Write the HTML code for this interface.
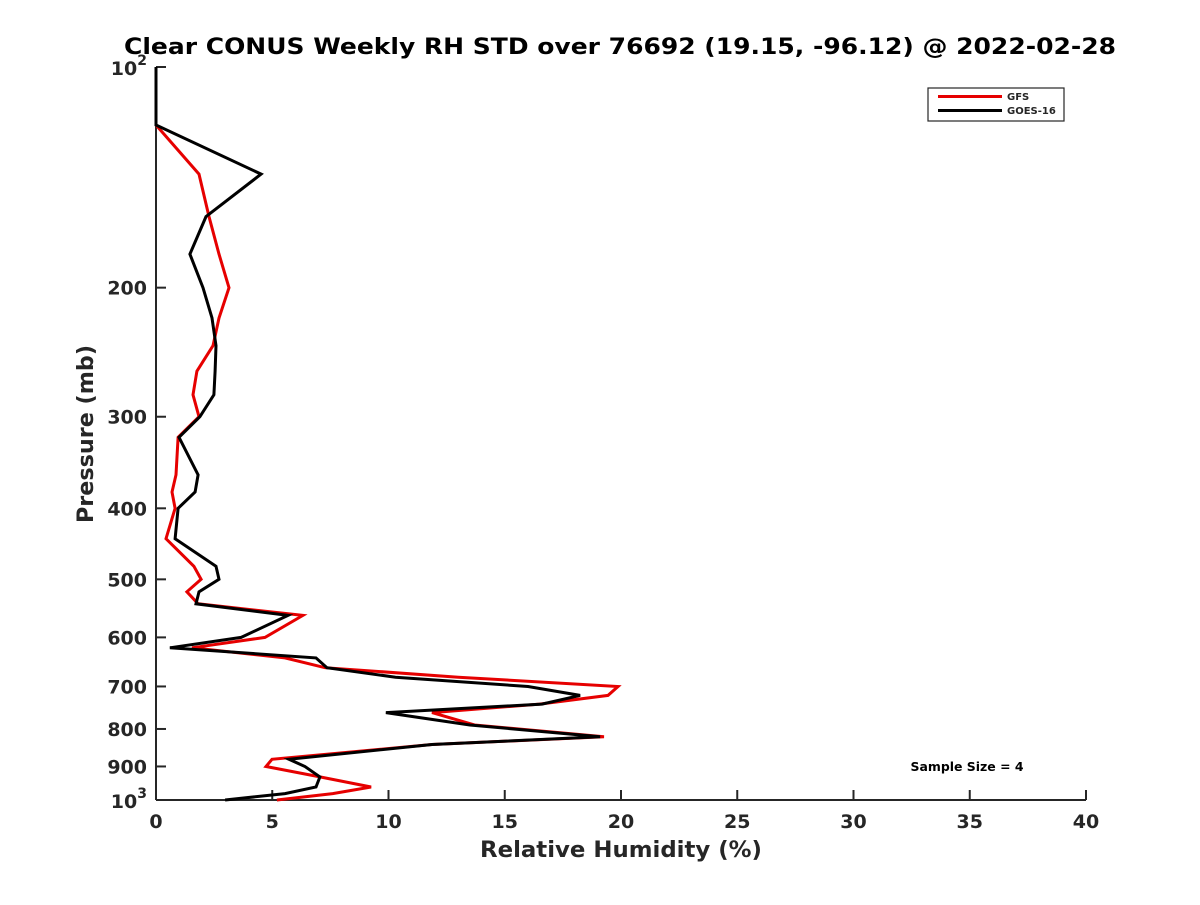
<!DOCTYPE html>
<html><head><meta charset="utf-8"><style>
body{margin:0;background:#fff;}
svg text{font-family:"DejaVu Sans","Liberation Sans",sans-serif;font-weight:bold;fill:#262626;}
</style></head><body>
<svg id="chart" width="1200" height="900" viewBox="0 0 1200 900" xmlns="http://www.w3.org/2000/svg">
<rect width="1200" height="900" fill="#fff"/>
<text x="620" y="54" text-anchor="middle" font-size="22" textLength="992" lengthAdjust="spacingAndGlyphs" style="fill:#000">Clear CONUS Weekly RH STD over 76692 (19.15, -96.12) @ 2022-02-28</text>
<g id="axes"></g>
<g id="series"></g>
<text x="621" y="857" text-anchor="middle" font-size="22" textLength="282" lengthAdjust="spacingAndGlyphs">Relative Humidity (%)</text>
<text transform="translate(93,434) rotate(-90)" text-anchor="middle" font-size="22" textLength="178" lengthAdjust="spacingAndGlyphs">Pressure (mb)</text>
<g>
<rect x="928" y="88" width="136" height="33" fill="#fff" stroke="#262626" stroke-width="1.2"/>
<line x1="938" y1="96.5" x2="1002" y2="96.5" stroke="#e60000" stroke-width="3"/>
<text x="1007" y="100" font-size="10">GFS</text>
<line x1="938" y1="110.5" x2="1002" y2="110.5" stroke="#000" stroke-width="3"/>
<text x="1007" y="114" font-size="10">GOES-16</text>
</g>
<text x="967" y="771" text-anchor="middle" font-size="12" textLength="113" lengthAdjust="spacingAndGlyphs" style="fill:#000">Sample Size = 4</text>
</svg>
<script>
const pressures=[100,120,140,160,180,200,220,240,260,280,300,320,360,380,400,440,480,500,520,540,560,600,620,640,660,680,700,720,740,760,790,820,840,880,900,930,960,980,1000];
const gfsValues=[0,0,1.85,2.28,2.71,3.14,2.71,2.45,1.76,1.59,1.85,0.95,0.86,0.69,0.82,0.43,1.63,1.94,1.33,1.81,6.32,4.69,1.55,5.55,7.27,13.0,19.87,19.44,16.5,11.87,13.7,19.27,11.87,4.99,4.73,7.05,9.25,7.6,5.2];
const goesValues=[0,0,4.52,2.15,1.46,2.02,2.41,2.58,2.54,2.49,1.89,0.99,1.81,1.68,0.95,0.82,2.58,2.71,1.85,1.72,5.68,3.66,0.6,6.88,7.35,10.3,16.0,18.24,16.6,9.89,13.5,19.1,11.87,5.72,6.41,7.05,6.88,5.55,2.97];
const xTicks=[0,5,10,15,20,25,30,35,40];
const yTicks=[200,300,400,500,600,700,800,900];
const X0=156,X1=1086,Y0=67,Y1=800;
const xs=v=>X0+(v/40)*(X1-X0);
const ys=p=>Y0+(Math.log10(p)-2)*(Y1-Y0);
const NS="http://www.w3.org/2000/svg";
const axes=document.getElementById('axes'),series=document.getElementById('series');
function mk(tag,attrs,parent){const e=document.createElementNS(NS,tag);for(const k in attrs)e.setAttribute(k,attrs[k]);parent.appendChild(e);return e;}
const xa=mk('line',{x1:X0,y1:Y1,x2:X1,y2:Y1,stroke:'#262626','stroke-width':2},axes);


const ya=mk('line',{x1:X0,y1:Y0,x2:X0,y2:Y1,stroke:'#262626','stroke-width':2},axes);


xTicks.forEach(t=>{
 const l=mk('line',{x1:xs(t),y1:Y1,x2:xs(t),y2:Y1-10,stroke:'#262626','stroke-width':2},axes);
 
 
 const tx=mk('text',{x:xs(t),y:Y1+28,'text-anchor':'middle','font-size':19},axes);
 tx.textContent=t;
 
 
});
yTicks.forEach(t=>{
 const l=mk('line',{x1:X0,y1:ys(t),x2:X0+10,y2:ys(t),stroke:'#262626','stroke-width':2},axes);
 
 
 const tx=mk('text',{x:X0-9,y:ys(t)+7,'text-anchor':'end','font-size':19},axes);
 tx.textContent=t;
 
 
});
[[100,Y0],[1000,Y1]].forEach(([p,y])=>{
 const l=mk('line',{x1:X0,y1:y,x2:X0+10,y2:y,stroke:'#262626','stroke-width':2},axes);
 
 
 const tx=mk('text',{x:X0-9,y:y+8,'text-anchor':'end','font-size':19},axes);
 tx.innerHTML='10<tspan dy="-10" font-size="14">'+(p===100?2:3)+'</tspan>';
 
 
});
function draw(vals,color,name){
 const d=vals.map((v,i)=>(i?'L':'M')+xs(v).toFixed(1)+','+ys(pressures[i]).toFixed(1)).join(' ');
 const p=mk('path',{d:d,fill:'none',stroke:color,'stroke-width':3,'stroke-linejoin':'miter'},series);
 
 
}
draw(gfsValues,'#e60000','gfs-line');
draw(goesValues,'#000','goes-16-line');
</script>
</body></html>
